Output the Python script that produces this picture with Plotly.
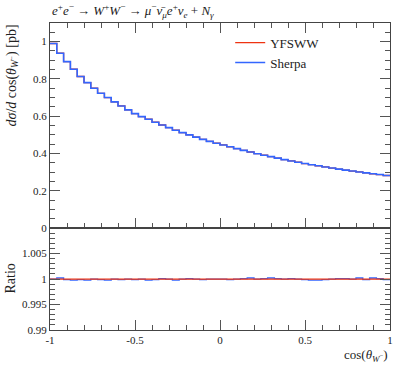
import plotly.graph_objects as go

# ---- data ----
bin_edges = [-1 + 0.04 * i for i in range(51)]
sherpa = [0.990, 0.938, 0.893, 0.852, 0.813, 0.780, 0.750, 0.723, 0.700, 0.677,
          0.655, 0.634, 0.614, 0.598, 0.584, 0.568, 0.553, 0.539, 0.525, 0.512,
          0.500, 0.488, 0.476, 0.465, 0.455, 0.446, 0.436, 0.426, 0.417, 0.408,
          0.399, 0.391, 0.383, 0.375, 0.367, 0.360, 0.353, 0.346, 0.340, 0.334,
          0.328, 0.322, 0.316, 0.311, 0.306, 0.301, 0.296, 0.291, 0.287, 0.282]
yfsww = [0.990, 0.938, 0.893, 0.852, 0.813, 0.780, 0.750, 0.723, 0.700, 0.677,
         0.655, 0.634, 0.614, 0.598, 0.584, 0.568, 0.553, 0.539, 0.525, 0.512,
         0.500, 0.488, 0.476, 0.465, 0.455, 0.446, 0.436, 0.426, 0.417, 0.408,
         0.399, 0.391, 0.383, 0.375, 0.367, 0.360, 0.353, 0.346, 0.340, 0.334,
         0.328, 0.322, 0.316, 0.311, 0.306, 0.301, 0.296, 0.291, 0.287, 0.282]
ratio_sherpa = [1.0000, 1.0002, 0.9999, 0.9998, 0.9999, 0.9998, 1.0000, 0.9999, 0.9998, 1.0000,
                0.9999, 1.0000, 0.9999, 1.0000, 0.9998, 0.9999, 1.0001, 1.0000, 0.9998, 1.0000,
                1.0001, 1.0000, 0.9999, 1.0000, 1.0000, 1.0000, 0.9999, 1.0000, 1.0001, 1.0002,
                1.0000, 1.0001, 1.0002, 1.0001, 1.0000, 1.0001, 1.0000, 0.9999, 0.9998, 0.9998,
                0.9999, 1.0000, 1.0001, 1.0001, 1.0000, 1.0002, 0.9999, 1.0002, 1.0001, 0.9999]
ratio_yfsww = [1.0] * 50

x_main_ticks = [-1, -0.5, 0, 0.5, 1]
x_tick_labels = ["-1", "-0.5", "0", "0.5", "1"]
ratio_ticks = [0.99, 0.995, 1.0, 1.005]
ratio_tick_labels = ["0.99", "0.995", "1", "1.005"]

RED = "#EE3311"
BLUE = "#3366FF"
FONT = "Liberation Serif, DejaVu Serif, serif"


def step(v):
    return list(v) + [v[-1]]


fig = go.Figure()
fig.add_trace(go.Scatter(x=bin_edges, y=step(yfsww), mode="lines", line_shape="hv",
                         line=dict(color=RED, width=1.3), name="YFSWW",
                         xaxis="x", yaxis="y"))
fig.add_trace(go.Scatter(x=bin_edges, y=step(sherpa), mode="lines", line_shape="hv",
                         line=dict(color=BLUE, width=1.6), name="Sherpa",
                         xaxis="x", yaxis="y"))
fig.add_trace(go.Scatter(x=bin_edges, y=step(ratio_sherpa), mode="lines", line_shape="hv",
                         line=dict(color=BLUE, width=1.3), showlegend=False,
                         xaxis="x2", yaxis="y2"))
fig.add_trace(go.Scatter(x=bin_edges, y=step(ratio_yfsww), mode="lines", line_shape="hv",
                         line=dict(color=RED, width=1.3), showlegend=False,
                         xaxis="x2", yaxis="y2"))

axis_common = dict(ticks="inside", showgrid=False, zeroline=False, showline=True,
                   linecolor="#444", linewidth=1, tickcolor="#555",
                   tickfont=dict(family=FONT, size=11, color="#222"))

split = 0.332
fig.update_layout(
    width=405, height=365,
    margin=dict(l=50, r=13, t=23, b=35),
    paper_bgcolor="white", plot_bgcolor="white",
    font=dict(family=FONT, size=12, color="#222"),
    xaxis=dict(domain=[0, 1], range=[-1, 1], anchor="y", showticklabels=False,
               tickvals=x_main_ticks, ticklen=10, mirror="allticks",
               minor=dict(dtick=0.1, ticklen=5, ticks="inside", tickcolor="#555"),
               **axis_common),
    yaxis=dict(domain=[split, 1], range=[0, 1.1], anchor="x", dtick=0.2, tick0=0,
               ticklen=10, mirror="allticks",
               minor=dict(dtick=0.05, ticklen=5, ticks="inside", tickcolor="#555"),
               **axis_common),
    xaxis2=dict(domain=[0, 1], range=[-1, 1], anchor="y2", tickvals=x_main_ticks,
                ticktext=x_tick_labels, ticklen=10, mirror=True,
                minor=dict(dtick=0.1, ticklen=5, ticks="inside", tickcolor="#555"),
                **axis_common),
    yaxis2=dict(domain=[0, split], range=[0.99, 1.01], anchor="x2", tickvals=ratio_ticks,
                ticktext=ratio_tick_labels, ticklen=10, mirror="allticks",
                minor=dict(dtick=0.001, ticklen=5, ticks="inside", tickcolor="#555"),
                **axis_common),
    legend=dict(x=0.53, y=0.985, xanchor="left", yanchor="top", yref="paper",
                bgcolor="rgba(0,0,0,0)", font=dict(family=FONT, size=13, color="#222"),
                itemwidth=30, tracegroupgap=2),
    showlegend=True,
)

fig.add_annotation(
    text="<i>e</i><sup>+</sup><i>e</i><sup>−</sup> → <i>W</i><sup>+</sup><i>W</i><sup>−</sup> → "
         "<i>μ</i><sup>−</sup><i>ν̄</i><sub><i>μ</i></sub><i>e</i><sup>+</sup><i>ν</i><sub><i>e</i></sub> + <i>N</i><sub><i>γ</i></sub>",
    xref="paper", yref="paper", x=0, y=1.0, xanchor="left", yanchor="bottom",
    yshift=1, showarrow=False, font=dict(family=FONT, size=13, color="#222"))
fig.add_annotation(
    text="<i>dσ</i>/<i>d</i> cos(<i>θ</i><sub><i>W</i><sup>−</sup></sub>) [pb]",
    xref="paper", yref="paper", x=0, y=1.0, xanchor="right", yanchor="top",
    xshift=-28, textangle=-90, showarrow=False, font=dict(family=FONT, size=14, color="#222"))
fig.add_annotation(
    text="Ratio", xref="paper", yref="paper", x=0, y=split / 2, xanchor="right",
    yanchor="middle", xshift=-30, textangle=-90, showarrow=False,
    font=dict(family=FONT, size=14, color="#222"))
fig.add_annotation(
    text="cos(<i>θ</i><sub><i>W</i><sup>−</sup></sub>)", xref="paper", yref="paper",
    x=1, y=0, xanchor="right", yanchor="top", yshift=-15, showarrow=False,
    font=dict(family=FONT, size=13, color="#222"))

fig.write_html("out.html", config={"displayModeBar": False},
               post_script="document.body.style.margin='0';document.body.style.overflow='hidden';")
